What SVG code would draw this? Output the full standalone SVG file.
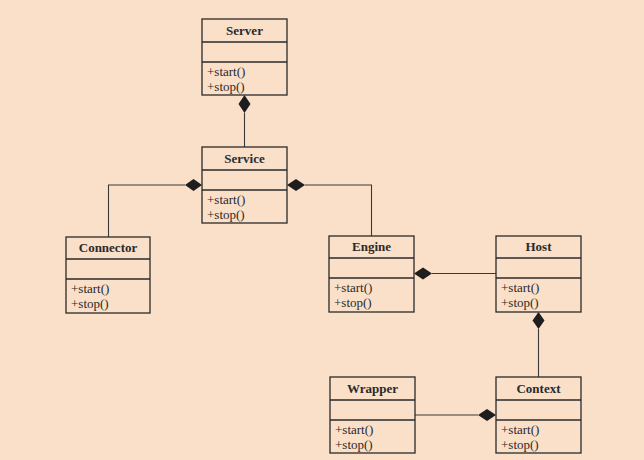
<svg xmlns="http://www.w3.org/2000/svg" width="644" height="460" viewBox="0 0 644 460">
<style>
.box{fill:none;stroke:#2a2a2a;stroke-width:1.3}
.t{font-family:"Liberation Serif","Times New Roman",serif;font-size:13px;font-weight:bold;fill:#2a2a2a;text-anchor:middle}
.m{font-family:"Liberation Serif","Times New Roman",serif;font-size:13px;fill:#2a2a2a}
.ln{fill:none;stroke:#3a3a3a;stroke-width:1.1}
.dm{fill:#1e1e1e;stroke:none}
</style>
<rect width="644" height="460" fill="#fadfc9"/>
<g id="connectors">
<path class="ln" d="M244.5,113 V147"/>
<polygon class="dm" points="244.5,95 250.5,104 244.5,113 238.5,104"/>
<path class="ln" d="M185,185 H108.5 V237"/>
<polygon class="dm" points="202,185 193.5,179 185,185 193.5,191"/>
<path class="ln" d="M305,185 H371.5 V236"/>
<polygon class="dm" points="287,185 296,179 305,185 296,191"/>
<path class="ln" d="M432,273.5 H496"/>
<polygon class="dm" points="414,273.5 423,267.5 432,273.5 423,279.5"/>
<path class="ln" d="M538.5,329 V377"/>
<polygon class="dm" points="538.5,312 544.5,320.5 538.5,329 532.5,320.5"/>
<path class="ln" d="M415,415 H478"/>
<polygon class="dm" points="496,415 487,409 478,415 487,421"/>
</g>
<g id="server">
<rect class="box" x="202" y="19" width="85" height="76"/>
<path class="box" d="M202,42 H287 M202,62 H287"/>
<text class="t" x="244.5" y="35">Server</text>
<text class="m" x="207" y="76">+start()</text>
<text class="m" x="207" y="91">+stop()</text>
</g>
<g id="service">
<rect class="box" x="202" y="147" width="85" height="76"/>
<path class="box" d="M202,170 H287 M202,190 H287"/>
<text class="t" x="244.5" y="163">Service</text>
<text class="m" x="207" y="204">+start()</text>
<text class="m" x="207" y="219">+stop()</text>
</g>
<g id="connector">
<rect class="box" x="66" y="237" width="84" height="76"/>
<path class="box" d="M66,259 H150 M66,279 H150"/>
<text class="t" x="108" y="252">Connector</text>
<text class="m" x="71" y="293">+start()</text>
<text class="m" x="71" y="308">+stop()</text>
</g>
<g id="engine">
<rect class="box" x="329" y="236" width="85" height="76"/>
<path class="box" d="M329,258 H414 M329,278 H414"/>
<text class="t" x="371.5" y="251">Engine</text>
<text class="m" x="334" y="292">+start()</text>
<text class="m" x="334" y="307">+stop()</text>
</g>
<g id="host">
<rect class="box" x="496" y="236" width="85" height="76"/>
<path class="box" d="M496,258 H581 M496,278 H581"/>
<text class="t" x="538.5" y="251">Host</text>
<text class="m" x="501" y="292">+start()</text>
<text class="m" x="501" y="307">+stop()</text>
</g>
<g id="wrapper">
<rect class="box" x="330" y="377" width="85" height="76"/>
<path class="box" d="M330,400 H415 M330,420 H415"/>
<text class="t" x="372.5" y="393">Wrapper</text>
<text class="m" x="335" y="434">+start()</text>
<text class="m" x="335" y="449">+stop()</text>
</g>
<g id="context">
<rect class="box" x="496" y="377" width="85" height="76"/>
<path class="box" d="M496,400 H581 M496,420 H581"/>
<text class="t" x="538.5" y="393">Context</text>
<text class="m" x="501" y="434">+start()</text>
<text class="m" x="501" y="449">+stop()</text>
</g>
</svg>
